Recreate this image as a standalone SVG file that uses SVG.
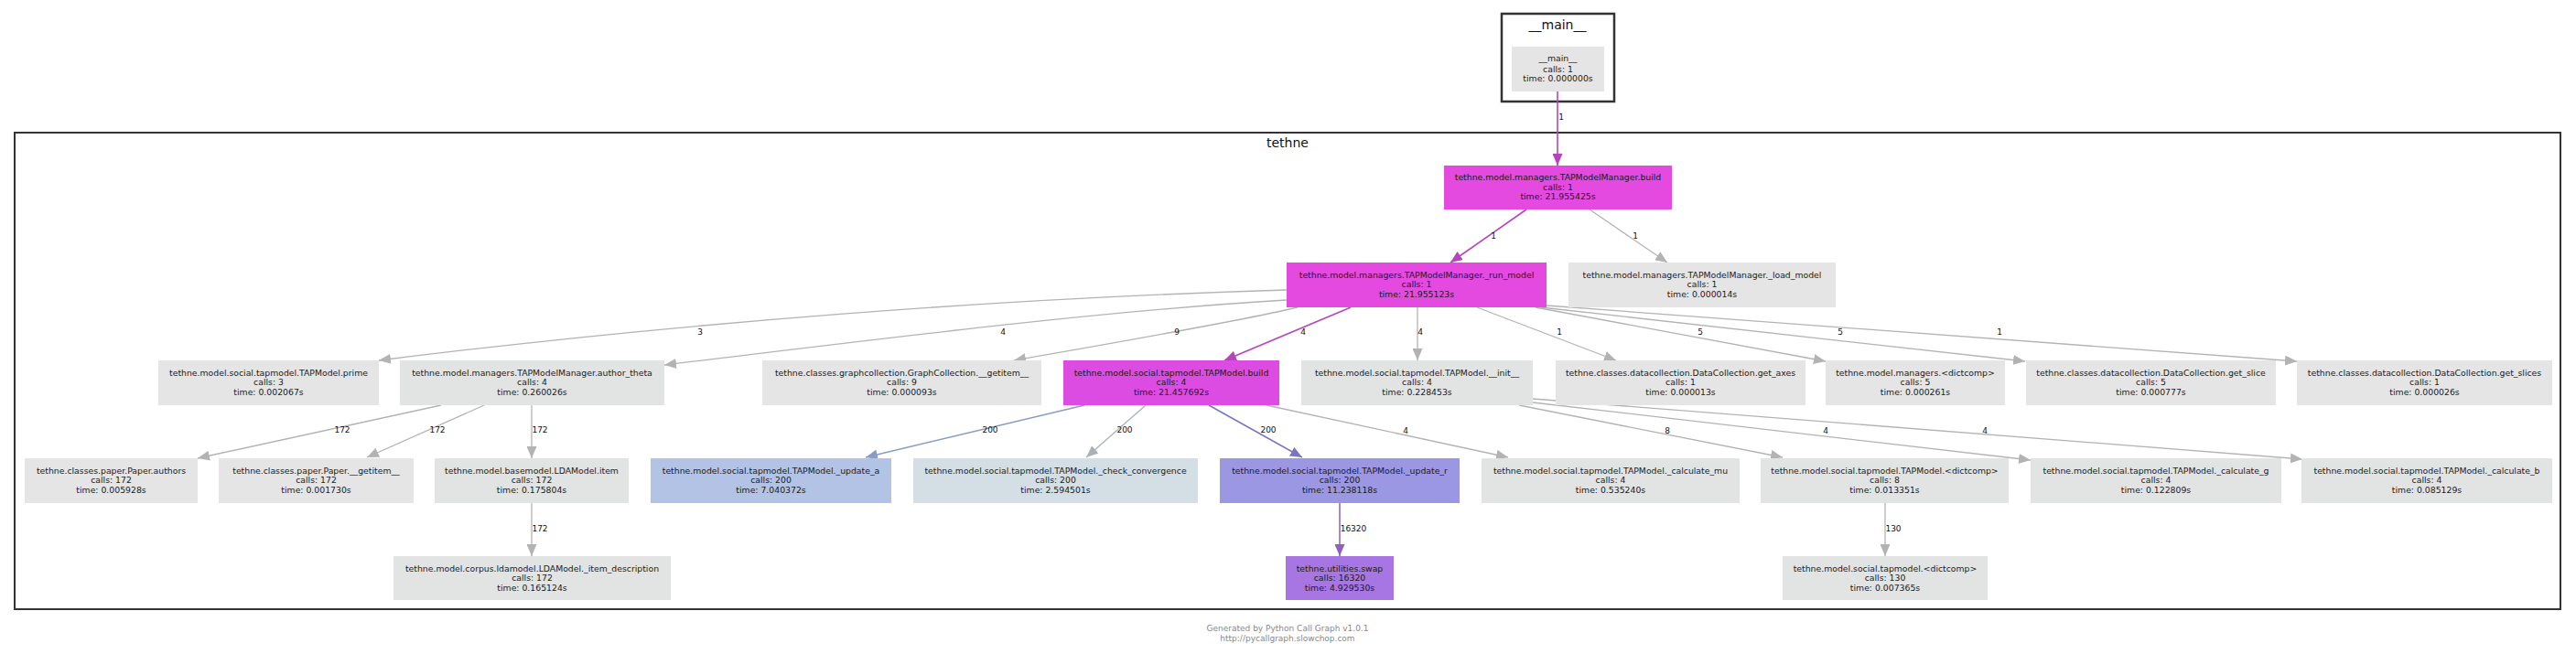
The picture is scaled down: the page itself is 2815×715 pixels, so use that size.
<svg xmlns="http://www.w3.org/2000/svg" width="2815" height="715" viewBox="0 0 2815 715">
<defs>
<style>
.cl{fill:none;stroke:#333;stroke-width:2}
.ct{font-family:"DejaVu Sans",Verdana,sans-serif;font-size:14px;fill:#111;text-anchor:middle}
.nt{font-family:"DejaVu Sans",Verdana,sans-serif;font-size:9.3px;fill:#1a1a1a;text-anchor:middle}
.el{font-family:"DejaVu Sans",Verdana,sans-serif;font-size:9px;fill:#111;text-anchor:middle}
.ft{font-family:"DejaVu Sans",Verdana,sans-serif;font-size:9px;fill:#888;text-anchor:middle}
.g{fill:#e5e5e5}
.t{fill:#e2e4e4}
.m{fill:#e449e0}
.m2{fill:#dc4ce2}
.e{fill:none;stroke-width:1.3}
.eg{stroke:#b3b3b3}
.em{stroke:#b744bd;stroke-width:1.6}
.eb{stroke:#8a9cc2;stroke-width:1.5}
.ec{stroke:#a9b2b6}
.ep{stroke:#7876c0;stroke-width:1.5}
.es{stroke:#9060bc;stroke-width:1.5}
</style>
<marker id="ag" markerUnits="userSpaceOnUse" markerWidth="14" markerHeight="11" refX="13" refY="5.5" orient="auto"><path d="M0,0L13,5.5L0,11z" fill="#b3b3b3"/></marker>
<marker id="am" markerUnits="userSpaceOnUse" markerWidth="14" markerHeight="11" refX="13" refY="5.5" orient="auto"><path d="M0,0L13,5.5L0,11z" fill="#b744bd"/></marker>
<marker id="ab" markerUnits="userSpaceOnUse" markerWidth="14" markerHeight="11" refX="13" refY="5.5" orient="auto"><path d="M0,0L13,5.5L0,11z" fill="#8a9cc2"/></marker>
<marker id="ac" markerUnits="userSpaceOnUse" markerWidth="14" markerHeight="11" refX="13" refY="5.5" orient="auto"><path d="M0,0L13,5.5L0,11z" fill="#a9b2b6"/></marker>
<marker id="ap" markerUnits="userSpaceOnUse" markerWidth="14" markerHeight="11" refX="13" refY="5.5" orient="auto"><path d="M0,0L13,5.5L0,11z" fill="#7876c0"/></marker>
<marker id="as" markerUnits="userSpaceOnUse" markerWidth="14" markerHeight="11" refX="13" refY="5.5" orient="auto"><path d="M0,0L13,5.5L0,11z" fill="#9060bc"/></marker>
</defs>
<rect x="0" y="0" width="2815" height="715" fill="#fff"/>

<g id="cluster_main">
<rect class="cl" x="1641" y="15" width="123" height="96" style="stroke-width:2.5"/>
<text class="ct" x="1702" y="32">__main__</text>
</g>
<g id="cluster_tethne">
<rect class="cl" x="16" y="145" width="2782" height="521"/>
<text class="ct" x="1407" y="161">tethne</text>
</g>

<g id="connectors">
<path class="e em" d="M1702,100L1702,181" marker-end="url(#am)"/>
<text class="el" x="1706" y="131">1</text>
<path class="e em" d="M1668,229L1585,287" marker-end="url(#am)"/>
<text class="el" x="1632" y="261">1</text>
<path class="e eg" d="M1737,229L1822,287" marker-end="url(#ag)"/>
<text class="el" x="1787" y="261">1</text>

<path class="e eg" d="M1406,317C1100,326 750,352 414,394" marker-end="url(#ag)"/>
<text class="el" x="765" y="366">3</text>
<path class="e eg" d="M1406,328C1200,340 950,372 726,399" marker-end="url(#ag)"/>
<text class="el" x="1096" y="366">4</text>
<path class="e eg" d="M1418,336C1350,352 1200,378 1108,394" marker-end="url(#ag)"/>
<text class="el" x="1286" y="366">9</text>
<path class="e em" d="M1476,336L1338,394" marker-end="url(#am)"/>
<text class="el" x="1424" y="366">4</text>
<path class="e eg" d="M1549,336L1549,394" marker-end="url(#ag)"/>
<text class="el" x="1552" y="366">4</text>
<path class="e eg" d="M1614,336L1766,394" marker-end="url(#ag)"/>
<text class="el" x="1704" y="366">1</text>
<path class="e eg" d="M1678,336L1995,395" marker-end="url(#ag)"/>
<text class="el" x="1858" y="366">5</text>
<path class="e eg" d="M1684,336L2213,395" marker-end="url(#ag)"/>
<text class="el" x="2011" y="366">5</text>
<path class="e eg" d="M1690,334L2510,395" marker-end="url(#ag)"/>
<text class="el" x="2185" y="366">1</text>

<path class="e eg" d="M482,443L216,501" marker-end="url(#ag)"/>
<text class="el" x="374" y="473">172</text>
<path class="e eg" d="M529,443L401,500" marker-end="url(#ag)"/>
<text class="el" x="478" y="473">172</text>
<path class="e eg" d="M581,443L581,501" marker-end="url(#ag)"/>
<text class="el" x="590" y="473">172</text>

<path class="e eb" d="M1185,443L946,500" marker-end="url(#ab)"/>
<text class="el" x="1082" y="473">200</text>
<path class="e ec" d="M1252,443L1187,500" marker-end="url(#ac)"/>
<text class="el" x="1229" y="473">200</text>
<path class="e ep" d="M1321,443L1423,500" marker-end="url(#ap)"/>
<text class="el" x="1386" y="473">200</text>
<path class="e eg" d="M1384,443L1648,500" marker-end="url(#ag)"/>
<text class="el" x="1536" y="474">4</text>

<path class="e eg" d="M1660,443L1948,500" marker-end="url(#ag)"/>
<text class="el" x="1822" y="474">8</text>
<path class="e eg" d="M1675,440L2219,503" marker-end="url(#ag)"/>
<text class="el" x="1995" y="474">4</text>
<path class="e eg" d="M1675,436L2516,502" marker-end="url(#ag)"/>
<text class="el" x="2169" y="474">4</text>

<path class="e eg" d="M581,550L581,608" marker-end="url(#ag)"/>
<text class="el" x="590" y="581">172</text>
<path class="e es" d="M1464,550L1464,608" marker-end="url(#as)"/>
<text class="el" x="1479" y="581">16320</text>
<path class="e eg" d="M2060,550L2060,608" marker-end="url(#ag)"/>
<text class="el" x="2069" y="581">130</text>
</g>

<g id="n_main"><rect class="g" x="1652" y="51" width="101" height="49"/>
<text class="nt" x="1702.5" y="67">__main__</text><text class="nt" x="1702.5" y="78.5">calls: 1</text><text class="nt" x="1702.5" y="89">time: 0.000000s</text></g>

<g id="n_build"><rect class="m" x="1578" y="181" width="249" height="48"/>
<text class="nt" x="1702.5" y="197">tethne.model.managers.TAPModelManager.build</text><text class="nt" x="1702.5" y="207.5">calls: 1</text><text class="nt" x="1702.5" y="218">time: 21.955425s</text></g>

<g id="n_run_model"><rect class="m" x="1406" y="287" width="284" height="49"/>
<text class="nt" x="1548" y="303.5">tethne.model.managers.TAPModelManager._run_model</text><text class="nt" x="1548" y="314">calls: 1</text><text class="nt" x="1548" y="324.5">time: 21.955123s</text></g>

<g id="n_load_model"><rect class="g" x="1714" y="287" width="292" height="49"/>
<text class="nt" x="1860" y="303.5">tethne.model.managers.TAPModelManager._load_model</text><text class="nt" x="1860" y="314">calls: 1</text><text class="nt" x="1860" y="324.5">time: 0.000014s</text></g>

<g id="n_prime"><rect class="g" x="173" y="394" width="241" height="49"/>
<text class="nt" x="293.5" y="410.5">tethne.model.social.tapmodel.TAPModel.prime</text><text class="nt" x="293.5" y="421">calls: 3</text><text class="nt" x="293.5" y="431.5">time: 0.002067s</text></g>

<g id="n_author_theta"><rect class="t" x="437" y="394" width="289" height="49"/>
<text class="nt" x="581.5" y="410.5">tethne.model.managers.TAPModelManager.author_theta</text><text class="nt" x="581.5" y="421">calls: 4</text><text class="nt" x="581.5" y="431.5">time: 0.260026s</text></g>

<g id="n_gc_getitem"><rect class="g" x="833" y="394" width="305" height="49"/>
<text class="nt" x="985.5" y="410.5">tethne.classes.graphcollection.GraphCollection.__getitem__</text><text class="nt" x="985.5" y="421">calls: 9</text><text class="nt" x="985.5" y="431.5">time: 0.000093s</text></g>

<g id="n_tap_build"><rect class="m2" x="1162" y="394" width="236" height="49"/>
<text class="nt" x="1280" y="410.5">tethne.model.social.tapmodel.TAPModel.build</text><text class="nt" x="1280" y="421">calls: 4</text><text class="nt" x="1280" y="431.5">time: 21.457692s</text></g>

<g id="n_tap_init"><rect class="t" x="1422" y="394" width="253" height="49"/>
<text class="nt" x="1548.5" y="410.5">tethne.model.social.tapmodel.TAPModel.__init__</text><text class="nt" x="1548.5" y="421">calls: 4</text><text class="nt" x="1548.5" y="431.5">time: 0.228453s</text></g>

<g id="n_get_axes"><rect class="g" x="1700" y="394" width="273" height="49"/>
<text class="nt" x="1836.5" y="410.5">tethne.classes.datacollection.DataCollection.get_axes</text><text class="nt" x="1836.5" y="421">calls: 1</text><text class="nt" x="1836.5" y="431.5">time: 0.000013s</text></g>

<g id="n_managers_dictcomp"><rect class="g" x="1995" y="394" width="196" height="49"/>
<text class="nt" x="2093" y="410.5">tethne.model.managers.&lt;dictcomp&gt;</text><text class="nt" x="2093" y="421">calls: 5</text><text class="nt" x="2093" y="431.5">time: 0.000261s</text></g>

<g id="n_get_slice"><rect class="g" x="2214" y="394" width="273" height="49"/>
<text class="nt" x="2350.5" y="410.5">tethne.classes.datacollection.DataCollection.get_slice</text><text class="nt" x="2350.5" y="421">calls: 5</text><text class="nt" x="2350.5" y="431.5">time: 0.000777s</text></g>

<g id="n_get_slices"><rect class="g" x="2510" y="394" width="279" height="49"/>
<text class="nt" x="2649.5" y="410.5">tethne.classes.datacollection.DataCollection.get_slices</text><text class="nt" x="2649.5" y="421">calls: 1</text><text class="nt" x="2649.5" y="431.5">time: 0.000026s</text></g>

<g id="n_authors"><rect class="g" x="27" y="501" width="189" height="49"/>
<text class="nt" x="121.5" y="517.5">tethne.classes.paper.Paper.authors</text><text class="nt" x="121.5" y="528">calls: 172</text><text class="nt" x="121.5" y="538.5">time: 0.005928s</text></g>

<g id="n_paper_getitem"><rect class="g" x="239" y="501" width="213" height="49"/>
<text class="nt" x="345.5" y="517.5">tethne.classes.paper.Paper.__getitem__</text><text class="nt" x="345.5" y="528">calls: 172</text><text class="nt" x="345.5" y="538.5">time: 0.001730s</text></g>

<g id="n_lda_item"><rect class="t" x="475" y="501" width="212" height="49"/>
<text class="nt" x="581" y="517.5">tethne.model.basemodel.LDAModel.item</text><text class="nt" x="581" y="528">calls: 172</text><text class="nt" x="581" y="538.5">time: 0.175804s</text></g>

<g id="n_update_a"><rect style="fill:#b3c3e5" x="711" y="501" width="263" height="49"/>
<text class="nt" x="842.5" y="517.5">tethne.model.social.tapmodel.TAPModel._update_a</text><text class="nt" x="842.5" y="528">calls: 200</text><text class="nt" x="842.5" y="538.5">time: 7.040372s</text></g>

<g id="n_check_convergence"><rect style="fill:#d3dfe5" x="998" y="501" width="311" height="49"/>
<text class="nt" x="1153.5" y="517.5">tethne.model.social.tapmodel.TAPModel._check_convergence</text><text class="nt" x="1153.5" y="528">calls: 200</text><text class="nt" x="1153.5" y="538.5">time: 2.594501s</text></g>

<g id="n_update_r"><rect style="fill:#9b97e3" x="1333" y="501" width="262" height="49"/>
<text class="nt" x="1464" y="517.5">tethne.model.social.tapmodel.TAPModel._update_r</text><text class="nt" x="1464" y="528">calls: 200</text><text class="nt" x="1464" y="538.5">time: 11.238118s</text></g>

<g id="n_calculate_mu"><rect class="t" x="1619" y="501" width="282" height="49"/>
<text class="nt" x="1760" y="517.5">tethne.model.social.tapmodel.TAPModel._calculate_mu</text><text class="nt" x="1760" y="528">calls: 4</text><text class="nt" x="1760" y="538.5">time: 0.535240s</text></g>

<g id="n_tap_dictcomp"><rect class="t" x="1924" y="501" width="271" height="49"/>
<text class="nt" x="2059.5" y="517.5">tethne.model.social.tapmodel.TAPModel.&lt;dictcomp&gt;</text><text class="nt" x="2059.5" y="528">calls: 8</text><text class="nt" x="2059.5" y="538.5">time: 0.013351s</text></g>

<g id="n_calculate_g"><rect class="t" x="2219" y="501" width="274" height="49"/>
<text class="nt" x="2356" y="517.5">tethne.model.social.tapmodel.TAPModel._calculate_g</text><text class="nt" x="2356" y="528">calls: 4</text><text class="nt" x="2356" y="538.5">time: 0.122809s</text></g>

<g id="n_calculate_b"><rect class="t" x="2515" y="501" width="274" height="49"/>
<text class="nt" x="2652" y="517.5">tethne.model.social.tapmodel.TAPModel._calculate_b</text><text class="nt" x="2652" y="528">calls: 4</text><text class="nt" x="2652" y="538.5">time: 0.085129s</text></g>

<g id="n_item_description"><rect class="t" x="430" y="608" width="303" height="48"/>
<text class="nt" x="581.5" y="624.5">tethne.model.corpus.ldamodel.LDAModel._item_description</text><text class="nt" x="581.5" y="635">calls: 172</text><text class="nt" x="581.5" y="645.5">time: 0.165124s</text></g>

<g id="n_swap"><rect style="fill:#a776e3" x="1405" y="608" width="118" height="48"/>
<text class="nt" x="1464" y="624.5">tethne.utilities.swap</text><text class="nt" x="1464" y="635">calls: 16320</text><text class="nt" x="1464" y="645.5">time: 4.929530s</text></g>

<g id="n_tapmodel_dictcomp"><rect class="t" x="1948" y="608" width="224" height="48"/>
<text class="nt" x="2060" y="624.5">tethne.model.social.tapmodel.&lt;dictcomp&gt;</text><text class="nt" x="2060" y="635">calls: 130</text><text class="nt" x="2060" y="645.5">time: 0.007365s</text></g>

<g id="footer">
<text class="ft" x="1407" y="690">Generated by Python Call Graph v1.0.1</text>
<text class="ft" x="1407" y="701">http://pycallgraph.slowchop.com</text>
</g>
</svg>
